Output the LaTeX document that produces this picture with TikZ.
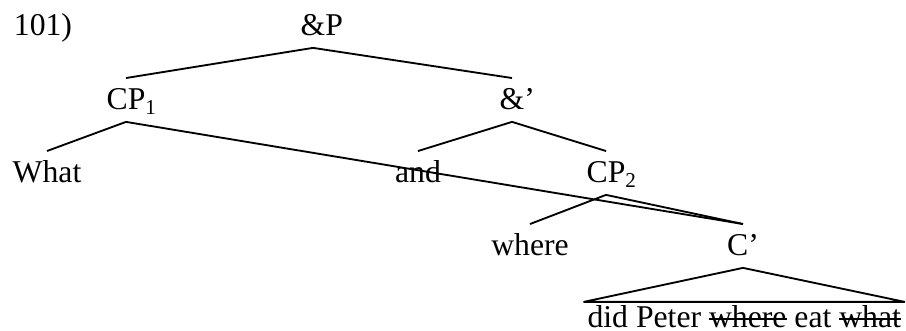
\documentclass[tikz,border=0pt]{standalone}
\usepackage{fontspec}
\setmainfont{Liberation Serif}
\usepackage{tikz}

% struck-out copies
\newlength\strikewd
\newcommand\strikeout[1]{\settowidth{\strikewd}{#1}\rlap{\rule[0.25em]{\strikewd}{0.7pt}}#1}

\begin{document}
\begin{tikzpicture}[x=0.3785pt,y=-0.3785pt,line width=0.7pt,line join=round,
        every node/.style={font=\fontsize{12}{14}\selectfont},
        lbl/.style={anchor=base,inner sep=0pt,text height=7.6pt,text depth=0pt,outer ysep=4.5pt},
        yield/.style={anchor=base west,inner xsep=1pt,inner ysep=0pt,text height=8pt,text depth=0pt,outer ysep=1.9pt}]
                \useasboundingbox (0,0) rectangle (906,331);

                \node[anchor=base west,inner sep=0pt] (num) at (13,36) {101)};

                \node[lbl] (andP) at (313,36) {\&\rlap{P}};
                \node[lbl] (cp1) at (126,110) {CP\rlap{\textsubscript{1}}};
                \node[lbl] (andbar) at (512,110) {\&\rlap{’}};
                \node[lbl] (what) at (47,183) {What};
                \node[lbl] (conj) at (418,183) {and};
                \node[lbl] (cp2) at (606,183) {CP\rlap{\textsubscript{2}}};
                \node[lbl] (where) at (530,256) {where};
                \node[lbl] (cbar) at (743,256) {C’};
                \node[yield] (vp) at (584,328) {did Peter \strikeout{where} eat \strikeout{what}};

                \draw (andP.south) -- (cp1.north);
                \draw (andP.south) -- (andbar.north);
                \draw (cp1.south) -- (what.north);
                \draw (cp1.south) -- (cbar.north);
                \draw (andbar.south) -- (conj.north);
                \draw (andbar.south) -- (cp2.north);
                \draw (cp2.south) -- (where.north);
                \draw (cp2.south) -- (cbar.north);
                \draw (cbar.south) -- (vp.north west) -- (vp.north east) -- cycle;
            \end{tikzpicture}
\end{document}
